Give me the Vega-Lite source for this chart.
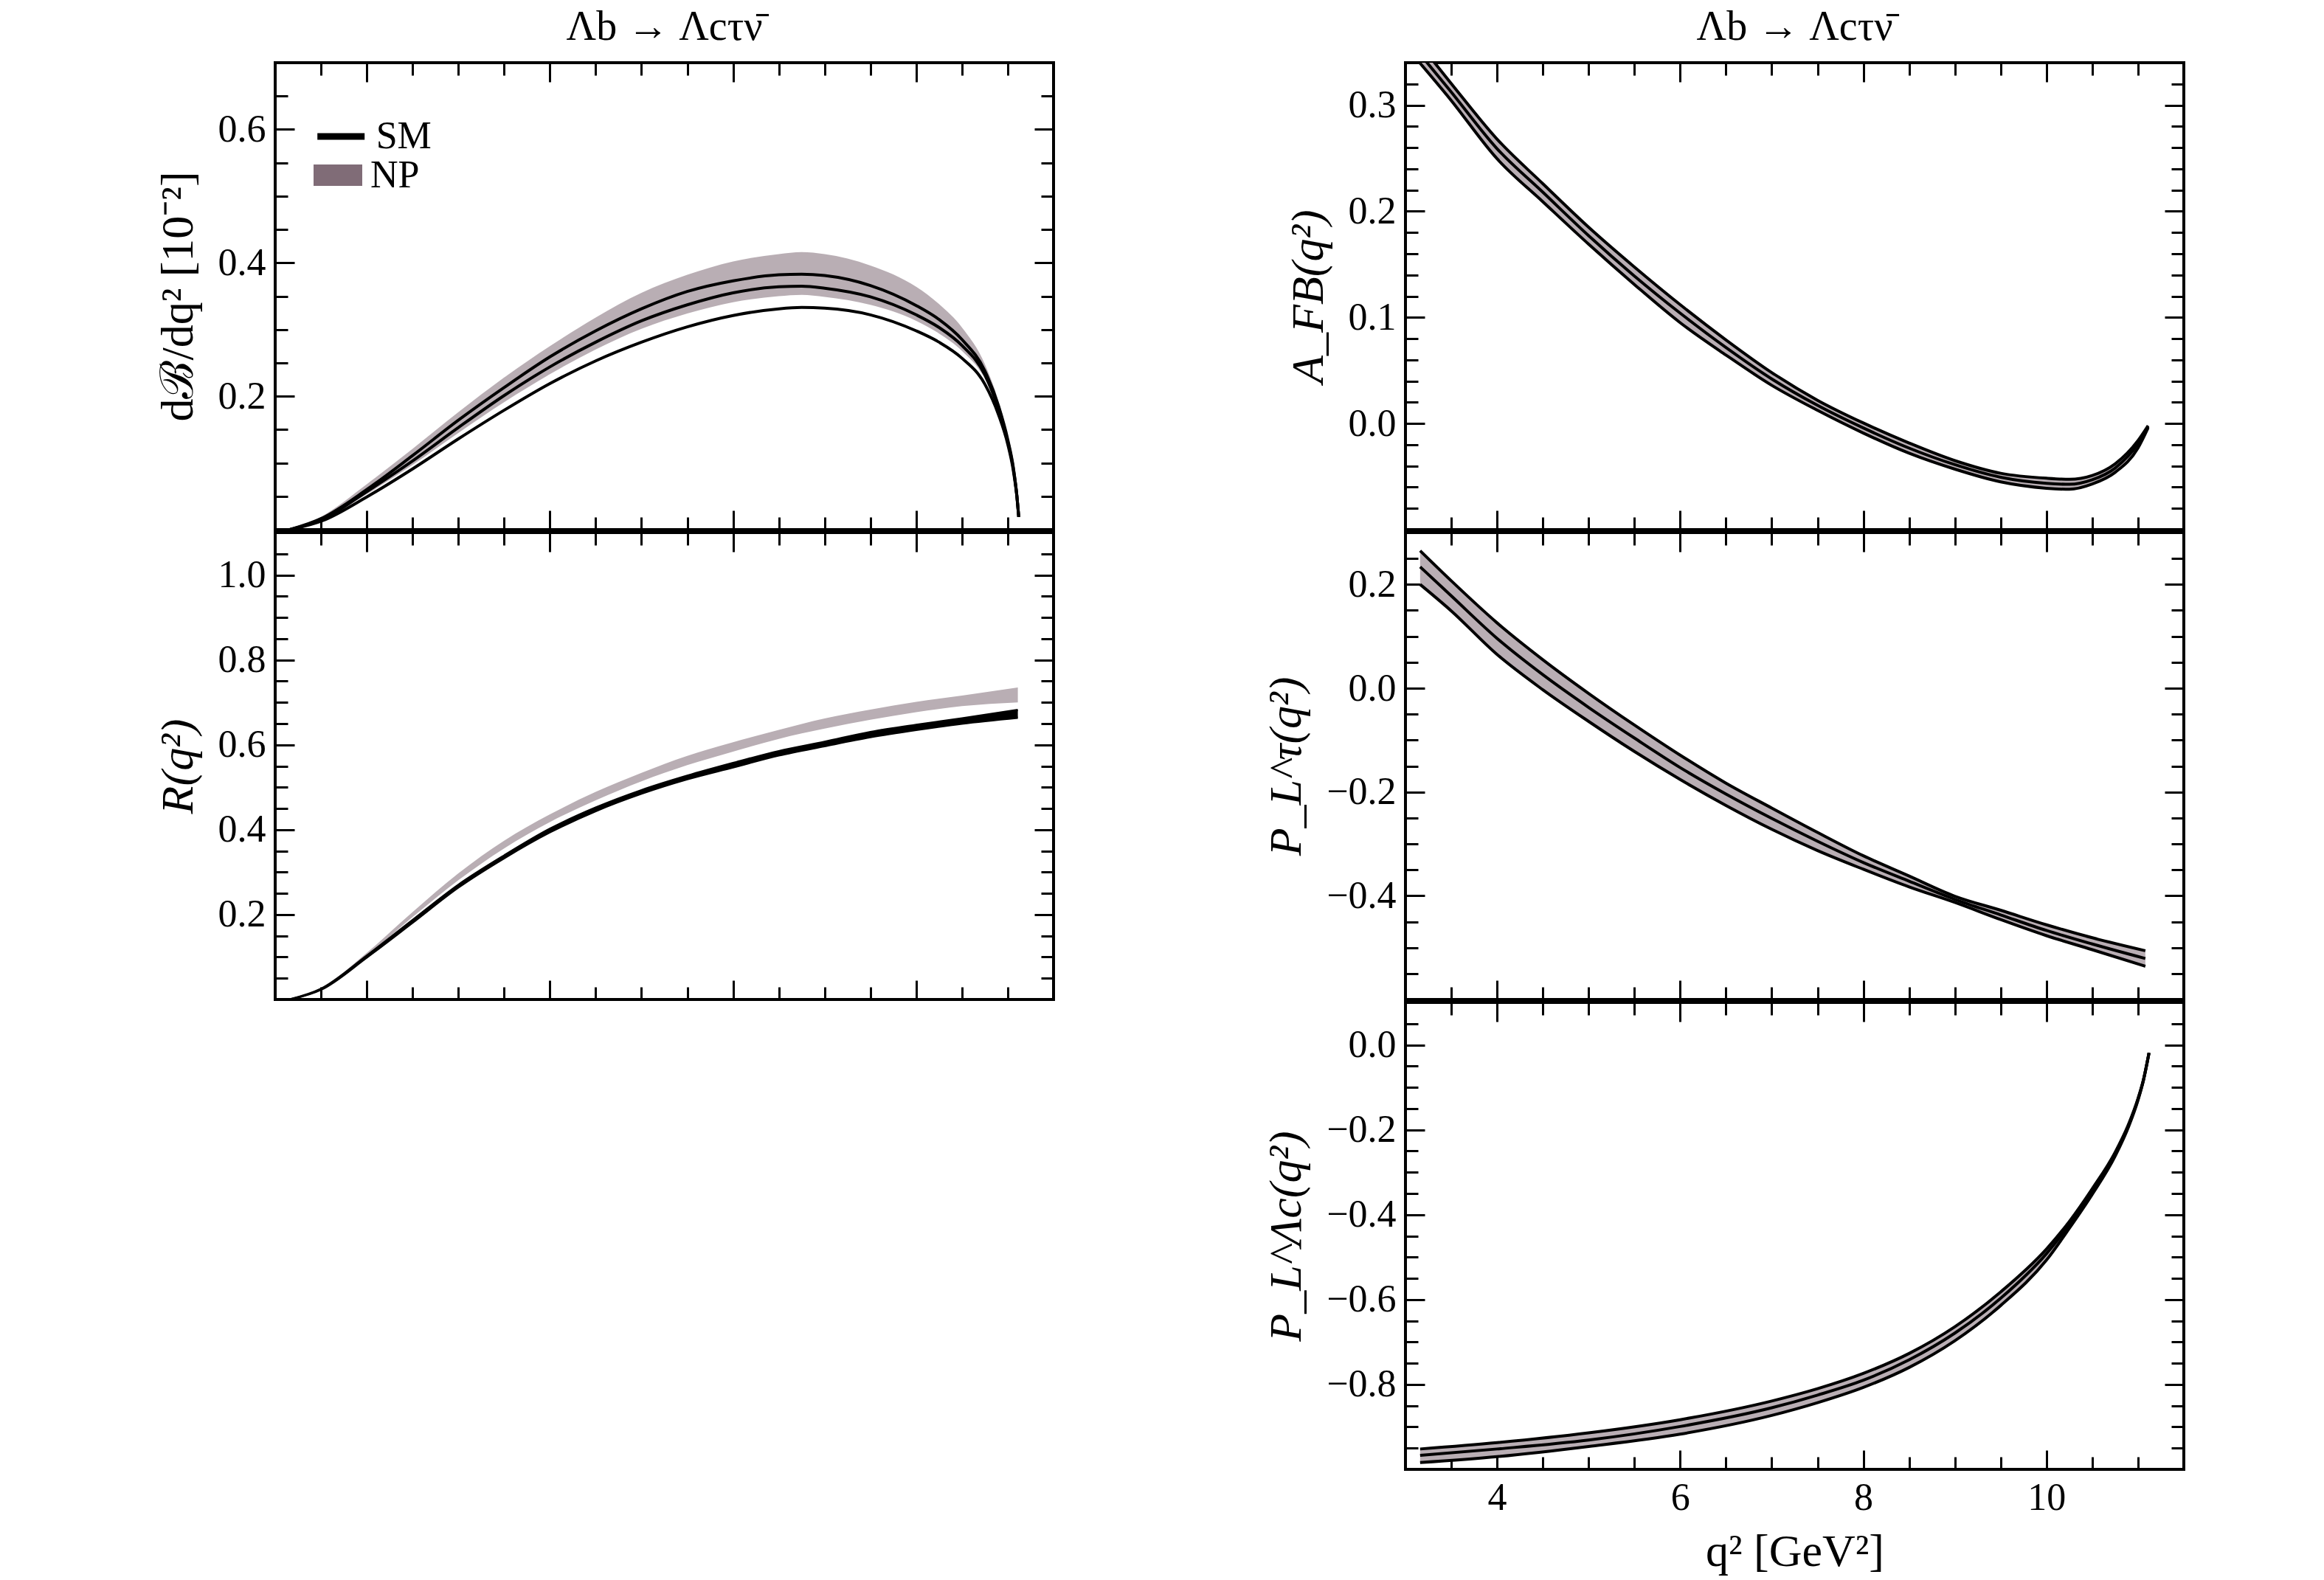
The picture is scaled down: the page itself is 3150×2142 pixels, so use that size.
{
  "$schema": "https://vega.github.io/schema/vega-lite/v5.json",
  "background": "white",
  "padding": {"left": 208, "top": 6, "right": 10, "bottom": 10},
  "datasets": {
    "dB": [
      {"q2": 3.16, "npLo": 0, "npHi": 0, "l1": 0, "l2": 0, "l3": 0},
      {"q2": 3.51, "npLo": 0.014, "npHi": 0.02, "l1": 0.017, "l2": 0.015, "l3": 0.013},
      {"q2": 4.0, "npLo": 0.053, "npHi": 0.068, "l1": 0.06, "l2": 0.057, "l3": 0.049},
      {"q2": 4.5, "npLo": 0.097, "npHi": 0.121, "l1": 0.111, "l2": 0.103, "l3": 0.091},
      {"q2": 5.0, "npLo": 0.145, "npHi": 0.176, "l1": 0.164, "l2": 0.153, "l3": 0.136},
      {"q2": 5.5, "npLo": 0.191, "npHi": 0.228, "l1": 0.213, "l2": 0.201, "l3": 0.179},
      {"q2": 6.0, "npLo": 0.233, "npHi": 0.275, "l1": 0.259, "l2": 0.244, "l3": 0.219},
      {"q2": 6.5, "npLo": 0.27, "npHi": 0.318, "l1": 0.298, "l2": 0.281, "l3": 0.253},
      {"q2": 7.0, "npLo": 0.301, "npHi": 0.355, "l1": 0.331, "l2": 0.313, "l3": 0.281},
      {"q2": 7.5, "npLo": 0.324, "npHi": 0.382, "l1": 0.357, "l2": 0.337, "l3": 0.304},
      {"q2": 8.0, "npLo": 0.341, "npHi": 0.402, "l1": 0.373, "l2": 0.355, "l3": 0.321},
      {"q2": 8.5, "npLo": 0.35, "npHi": 0.413, "l1": 0.382, "l2": 0.364, "l3": 0.331},
      {"q2": 8.75, "npLo": 0.352, "npHi": 0.416, "l1": 0.383, "l2": 0.365, "l3": 0.333},
      {"q2": 9.0, "npLo": 0.349, "npHi": 0.413, "l1": 0.381, "l2": 0.362, "l3": 0.332},
      {"q2": 9.5, "npLo": 0.337, "npHi": 0.396, "l1": 0.366, "l2": 0.349, "l3": 0.322},
      {"q2": 10.0, "npLo": 0.313, "npHi": 0.364, "l1": 0.336, "l2": 0.322, "l3": 0.298},
      {"q2": 10.25, "npLo": 0.294, "npHi": 0.338, "l1": 0.315, "l2": 0.303, "l3": 0.281},
      {"q2": 10.5, "npLo": 0.268, "npHi": 0.303, "l1": 0.285, "l2": 0.276, "l3": 0.257},
      {"q2": 10.75, "npLo": 0.226, "npHi": 0.248, "l1": 0.238, "l2": 0.232, "l3": 0.218},
      {"q2": 10.9, "npLo": 0.177, "npHi": 0.192, "l1": 0.185, "l2": 0.18, "l3": 0.172},
      {"q2": 11.0, "npLo": 0.131, "npHi": 0.14, "l1": 0.135, "l2": 0.132, "l3": 0.128},
      {"q2": 11.06, "npLo": 0.09, "npHi": 0.098, "l1": 0.094, "l2": 0.092, "l3": 0.089},
      {"q2": 11.1, "npLo": 0.049, "npHi": 0.052, "l1": 0.05, "l2": 0.05, "l3": 0.049},
      {"q2": 11.12, "npLo": 0.019, "npHi": 0.019, "l1": 0.019, "l2": 0.019, "l3": 0.019}
    ],
    "R": [
      {"q2": 3.16, "npLo": 0, "npHi": 0, "smLo": 0, "smHi": 0},
      {"q2": 3.5, "npLo": 0.024, "npHi": 0.027, "smLo": 0.023, "smHi": 0.025},
      {"q2": 4.0, "npLo": 0.103, "npHi": 0.11, "smLo": 0.099, "smHi": 0.103},
      {"q2": 4.5, "npLo": 0.194, "npHi": 0.206, "smLo": 0.181, "smHi": 0.187},
      {"q2": 5.0, "npLo": 0.281, "npHi": 0.297, "smLo": 0.264, "smHi": 0.27},
      {"q2": 5.5, "npLo": 0.356, "npHi": 0.374, "smLo": 0.333, "smHi": 0.339},
      {"q2": 6.0, "npLo": 0.418, "npHi": 0.436, "smLo": 0.394, "smHi": 0.402},
      {"q2": 6.5, "npLo": 0.469, "npHi": 0.489, "smLo": 0.444, "smHi": 0.452},
      {"q2": 7.0, "npLo": 0.514, "npHi": 0.534, "smLo": 0.485, "smHi": 0.493},
      {"q2": 7.5, "npLo": 0.552, "npHi": 0.574, "smLo": 0.519, "smHi": 0.527},
      {"q2": 8.0, "npLo": 0.584, "npHi": 0.606, "smLo": 0.547, "smHi": 0.557},
      {"q2": 8.5, "npLo": 0.614, "npHi": 0.635, "smLo": 0.575, "smHi": 0.585},
      {"q2": 9.0, "npLo": 0.638, "npHi": 0.662, "smLo": 0.597, "smHi": 0.607},
      {"q2": 9.5, "npLo": 0.659, "npHi": 0.683, "smLo": 0.618, "smHi": 0.63},
      {"q2": 10.0, "npLo": 0.677, "npHi": 0.701, "smLo": 0.635, "smHi": 0.647},
      {"q2": 10.5, "npLo": 0.691, "npHi": 0.716, "smLo": 0.65, "smHi": 0.662},
      {"q2": 11.11, "npLo": 0.7, "npHi": 0.735, "smLo": 0.664, "smHi": 0.682}
    ],
    "AFB": [
      {"q2": 3.16, "lo": 0.3395, "mid": 0.348, "hi": 0.357},
      {"q2": 3.485, "lo": 0.306, "mid": 0.314, "hi": 0.322},
      {"q2": 4.0, "lo": 0.2495, "mid": 0.259, "hi": 0.268},
      {"q2": 4.5, "lo": 0.209, "mid": 0.218, "hi": 0.226},
      {"q2": 5.0, "lo": 0.169, "mid": 0.177, "hi": 0.185},
      {"q2": 5.5, "lo": 0.131, "mid": 0.139, "hi": 0.1475},
      {"q2": 6.0, "lo": 0.095, "mid": 0.104, "hi": 0.112},
      {"q2": 6.5, "lo": 0.0645, "mid": 0.0716, "hi": 0.0788},
      {"q2": 7.0, "lo": 0.036, "mid": 0.042, "hi": 0.048},
      {"q2": 7.5, "lo": 0.0124, "mid": 0.0171, "hi": 0.0219},
      {"q2": 8.0, "lo": -0.009, "mid": -0.0042, "hi": 0.0005},
      {"q2": 8.5, "lo": -0.028, "mid": -0.0232, "hi": -0.0184},
      {"q2": 9.0, "lo": -0.043, "mid": -0.0388, "hi": -0.035},
      {"q2": 9.5, "lo": -0.055, "mid": -0.0507, "hi": -0.0469},
      {"q2": 10.0, "lo": -0.061, "mid": -0.0564, "hi": -0.0516},
      {"q2": 10.25, "lo": -0.062, "mid": -0.0573, "hi": -0.0526},
      {"q2": 10.5, "lo": -0.057, "mid": -0.053, "hi": -0.049},
      {"q2": 10.75, "lo": -0.046, "mid": -0.042, "hi": -0.038},
      {"q2": 11.0, "lo": -0.023, "mid": -0.019, "hi": -0.016},
      {"q2": 11.11, "lo": -0.004, "mid": -0.003, "hi": -0.002}
    ],
    "PT": [
      {"q2": 3.16, "lo": 0.2, "mid": 0.234, "hi": 0.265},
      {"q2": 3.5, "lo": 0.149, "mid": 0.178, "hi": 0.207},
      {"q2": 4.0, "lo": 0.065, "mid": 0.096, "hi": 0.126},
      {"q2": 4.5, "lo": -0.003, "mid": 0.026, "hi": 0.055},
      {"q2": 5.0, "lo": -0.064, "mid": -0.037, "hi": -0.01},
      {"q2": 5.5, "lo": -0.122, "mid": -0.096, "hi": -0.071},
      {"q2": 6.0, "lo": -0.176, "mid": -0.153, "hi": -0.129},
      {"q2": 6.5, "lo": -0.226, "mid": -0.204, "hi": -0.183},
      {"q2": 7.0, "lo": -0.272, "mid": -0.251, "hi": -0.231},
      {"q2": 7.5, "lo": -0.313, "mid": -0.295, "hi": -0.278},
      {"q2": 8.0, "lo": -0.349, "mid": -0.336, "hi": -0.323},
      {"q2": 8.5, "lo": -0.383, "mid": -0.372, "hi": -0.362},
      {"q2": 9.0, "lo": -0.413, "mid": -0.407, "hi": -0.401},
      {"q2": 9.5, "lo": -0.446, "mid": -0.437, "hi": -0.428},
      {"q2": 10.0, "lo": -0.477, "mid": -0.467, "hi": -0.456},
      {"q2": 10.5, "lo": -0.504, "mid": -0.493, "hi": -0.481},
      {"q2": 11.08, "lo": -0.536, "mid": -0.521, "hi": -0.506}
    ],
    "PL": [
      {"q2": 3.16, "lo": -0.984, "mid": -0.967, "hi": -0.952},
      {"q2": 4.0, "lo": -0.97, "mid": -0.952, "hi": -0.937},
      {"q2": 5.0, "lo": -0.946, "mid": -0.931, "hi": -0.914},
      {"q2": 6.0, "lo": -0.917, "mid": -0.899, "hi": -0.883},
      {"q2": 7.0, "lo": -0.873, "mid": -0.855, "hi": -0.839},
      {"q2": 7.5, "lo": -0.843, "mid": -0.825, "hi": -0.81},
      {"q2": 8.0, "lo": -0.807, "mid": -0.79, "hi": -0.774},
      {"q2": 8.5, "lo": -0.76, "mid": -0.742, "hi": -0.727},
      {"q2": 9.0, "lo": -0.697, "mid": -0.679, "hi": -0.664},
      {"q2": 9.5, "lo": -0.614, "mid": -0.597, "hi": -0.582},
      {"q2": 10.0, "lo": -0.507, "mid": -0.492, "hi": -0.481},
      {"q2": 10.25, "lo": -0.432, "mid": -0.424, "hi": -0.416},
      {"q2": 10.5, "lo": -0.352, "mid": -0.345, "hi": -0.339},
      {"q2": 10.75, "lo": -0.262, "mid": -0.257, "hi": -0.253},
      {"q2": 10.9, "lo": -0.191, "mid": -0.188, "hi": -0.185},
      {"q2": 11.0, "lo": -0.13, "mid": -0.128, "hi": -0.126},
      {"q2": 11.06, "lo": -0.083, "mid": -0.082, "hi": -0.081},
      {"q2": 11.12, "lo": -0.019, "mid": -0.019, "hi": -0.019}
    ]
  },
  "hconcat": [
    {
      "spacing": -10,
      "resolve": {"scale": {"stroke": "independent", "fill": "independent"}},
      "vconcat": [
        {
          "width": 1055,
          "height": 633,
          "title": {"text": "Λb  →  Λcτν̄", "fontSize": 56, "font": "Liberation Serif", "fontWeight": "normal", "offset": 18},
          "data": {"name": "dB"},
          "layer": [
            {
              "mark": {"type": "area", "interpolate": "monotone", "opacity": 0.55, "clip": true},
              "encoding": {
                "x": {"field": "q2", "type": "quantitative", "scale": {"domain": [3, 11.5], "nice": false, "zero": false},
                  "axis": {"orient": "bottom", "values": [3.5, 4, 4.5, 5, 5.5, 6, 6.5, 7, 7.5, 8, 8.5, 9, 9.5, 10, 10.5, 11], "labels": false, "title": null,
                    "tickSize": {"condition": {"test": "datum.value % 2 === 0", "value": -26}, "value": -17}}},
                "y": {"field": "npLo", "type": "quantitative", "scale": {"domain": [0, 0.7], "nice": false, "zero": false},
                  "axis": {"orient": "left", "values": [0.05, 0.1, 0.15, 0.2, 0.25, 0.3, 0.35, 0.4, 0.45, 0.5, 0.55, 0.6, 0.65],
                    "labelExpr": "abs(datum.value*5 - round(datum.value*5)) < 0.001 ? format(datum.value, '.1f') : ''",
                    "labelPadding": 39, "title": "dℬ/dq² [10⁻²]", "titlePadding": 22,
                    "tickSize": {"condition": {"test": "abs(datum.value*5 - round(datum.value*5)) < 0.001", "value": -26}, "value": -17}}},
                "y2": {"field": "npHi"},
                "fill": {"datum": "NP", "scale": {"domain": ["NP"], "range": ["#806c77"]},
                  "legend": {"orient": "none", "legendX": 52, "legendY": 119.5, "title": null, "padding": 0,
                    "symbolType": "M-1,-0.44H1V0.44H-1Z", "symbolSize": 4356, "symbolStrokeWidth": 0, "symbolOpacity": 1,
                    "labelFont": "Liberation Serif", "labelFontSize": 52, "labelColor": "black", "labelOffset": 11}}
              }
            },
            {
              "mark": {"type": "line", "interpolate": "monotone", "strokeWidth": 4, "clip": true},
              "encoding": {
                "x": {"field": "q2", "type": "quantitative",
                  "axis": {"orient": "top", "values": [3.5, 4, 4.5, 5, 5.5, 6, 6.5, 7, 7.5, 8, 8.5, 9, 9.5, 10, 10.5, 11], "labels": false, "title": null,
                    "tickSize": {"condition": {"test": "datum.value % 2 === 0", "value": -26}, "value": -17}}},
                "y": {"field": "l1", "type": "quantitative",
                  "axis": {"orient": "right", "values": [0.05, 0.1, 0.15, 0.2, 0.25, 0.3, 0.35, 0.4, 0.45, 0.5, 0.55, 0.6, 0.65], "labels": false, "title": null,
                    "tickSize": {"condition": {"test": "abs(datum.value*5 - round(datum.value*5)) < 0.001", "value": -26}, "value": -17}}},
                "stroke": {"datum": "SM", "scale": {"domain": ["SM"], "range": ["#000000"]},
                  "legend": {"orient": "none", "legendX": 52.7, "legendY": 63.5, "title": null, "padding": 0,
                    "symbolType": "stroke", "symbolSize": 4096, "symbolStrokeWidth": 9,
                    "labelFont": "Liberation Serif", "labelFontSize": 52, "labelColor": "black", "labelOffset": 11}}
              }
            },
            {
              "mark": {"type": "line", "interpolate": "monotone", "strokeWidth": 4, "color": "black", "clip": true},
              "encoding": {
                "x": {"field": "q2", "type": "quantitative", "axis": null},
                "y": {"field": "l2", "type": "quantitative", "axis": null}
              }
            },
            {
              "mark": {"type": "line", "interpolate": "monotone", "strokeWidth": 4, "color": "black", "clip": true},
              "encoding": {
                "x": {"field": "q2", "type": "quantitative", "axis": null},
                "y": {"field": "l3", "type": "quantitative", "axis": null}
              }
            }
          ],
          "resolve": {"axis": {"x": "independent", "y": "independent"}}
        },
        {
          "width": 1055,
          "height": 633,
          "data": {"name": "R"},
          "layer": [
            {
              "mark": {"type": "area", "interpolate": "monotone", "color": "#b9aeb4", "clip": true},
              "encoding": {
                "x": {"field": "q2", "type": "quantitative", "scale": {"domain": [3, 11.5], "nice": false, "zero": false},
                  "axis": {"orient": "bottom", "values": [3.5, 4, 4.5, 5, 5.5, 6, 6.5, 7, 7.5, 8, 8.5, 9, 9.5, 10, 10.5, 11], "labels": false, "title": null,
                    "tickSize": {"condition": {"test": "datum.value % 2 === 0", "value": -26}, "value": -17}}},
                "y": {"field": "npLo", "type": "quantitative", "scale": {"domain": [0, 1.1], "nice": false, "zero": false},
                  "axis": {"orient": "left", "values": [0.05, 0.1, 0.15, 0.2, 0.25, 0.3, 0.35, 0.4, 0.45, 0.5, 0.55, 0.6, 0.65, 0.7, 0.75, 0.8, 0.85, 0.9, 0.95, 1.0, 1.05],
                    "labelExpr": "abs(datum.value*5 - round(datum.value*5)) < 0.001 ? format(datum.value, '.1f') : ''",
                    "labelPadding": 39, "title": "R(q²)", "titleFontStyle": "italic", "titlePadding": 22,
                    "tickSize": {"condition": {"test": "abs(datum.value*5 - round(datum.value*5)) < 0.001", "value": -26}, "value": -17}}},
                "y2": {"field": "npHi"}
              }
            },
            {
              "mark": {"type": "area", "interpolate": "monotone", "color": "black", "clip": true},
              "encoding": {
                "x": {"field": "q2", "type": "quantitative",
                  "axis": {"orient": "top", "values": [3.5, 4, 4.5, 5, 5.5, 6, 6.5, 7, 7.5, 8, 8.5, 9, 9.5, 10, 10.5, 11], "labels": false, "title": null,
                    "tickSize": {"condition": {"test": "datum.value % 2 === 0", "value": -26}, "value": -17}}},
                "y": {"field": "smLo", "type": "quantitative",
                  "axis": {"orient": "right", "values": [0.05, 0.1, 0.15, 0.2, 0.25, 0.3, 0.35, 0.4, 0.45, 0.5, 0.55, 0.6, 0.65, 0.7, 0.75, 0.8, 0.85, 0.9, 0.95, 1.0, 1.05], "labels": false, "title": null,
                    "tickSize": {"condition": {"test": "abs(datum.value*5 - round(datum.value*5)) < 0.001", "value": -26}, "value": -17}}},
                "y2": {"field": "smHi"}
              }
            },
            {
              "mark": {"type": "line", "interpolate": "monotone", "strokeWidth": 3, "color": "black", "clip": true},
              "encoding": {
                "x": {"field": "q2", "type": "quantitative", "axis": null},
                "y": {"field": "smLo", "type": "quantitative", "axis": null}
              }
            },
            {
              "mark": {"type": "line", "interpolate": "monotone", "strokeWidth": 3, "color": "black", "clip": true},
              "encoding": {
                "x": {"field": "q2", "type": "quantitative", "axis": null},
                "y": {"field": "smHi", "type": "quantitative", "axis": null}
              }
            }
          ],
          "resolve": {"axis": {"x": "independent", "y": "independent"}}
        }
      ]
    },
    {
      "spacing": -10,
      "vconcat": [
        {
          "width": 1055,
          "height": 633,
          "title": {"text": "Λb  →  Λcτν̄", "fontSize": 56, "font": "Liberation Serif", "fontWeight": "normal", "offset": 18},
          "data": {"name": "AFB"},
          "layer": [
            {
              "mark": {"type": "area", "interpolate": "monotone", "color": "#b9aeb4", "clip": true},
              "encoding": {
                "x": {"field": "q2", "type": "quantitative", "scale": {"domain": [3, 11.5], "nice": false, "zero": false},
                  "axis": {"orient": "bottom", "values": [3.5, 4, 4.5, 5, 5.5, 6, 6.5, 7, 7.5, 8, 8.5, 9, 9.5, 10, 10.5, 11], "labels": false, "title": null,
                    "tickSize": {"condition": {"test": "datum.value % 2 === 0", "value": -26}, "value": -17}}},
                "y": {"field": "lo", "type": "quantitative", "scale": {"domain": [-0.1, 0.34], "nice": false, "zero": false},
                  "axis": {"orient": "left", "values": [-0.08, -0.06, -0.04, -0.02, 0, 0.02, 0.04, 0.06, 0.08, 0.1, 0.12, 0.14, 0.16, 0.18, 0.2, 0.22, 0.24, 0.26, 0.28, 0.3, 0.32],
                    "labelExpr": "abs(datum.value*10 - round(datum.value*10)) < 0.001 ? format(datum.value, '.1f') : ''",
                    "labelPadding": 39, "title": "A_FB(q²)", "titleFontStyle": "italic", "titlePadding": 22,
                    "tickSize": {"condition": {"test": "abs(datum.value*10 - round(datum.value*10)) < 0.001", "value": -26}, "value": -17}}},
                "y2": {"field": "hi"}
              }
            },
            {
              "mark": {"type": "line", "interpolate": "monotone", "strokeWidth": 4, "color": "black", "clip": true},
              "encoding": {
                "x": {"field": "q2", "type": "quantitative",
                  "axis": {"orient": "top", "values": [3.5, 4, 4.5, 5, 5.5, 6, 6.5, 7, 7.5, 8, 8.5, 9, 9.5, 10, 10.5, 11], "labels": false, "title": null,
                    "tickSize": {"condition": {"test": "datum.value % 2 === 0", "value": -26}, "value": -17}}},
                "y": {"field": "hi", "type": "quantitative",
                  "axis": {"orient": "right", "values": [-0.08, -0.06, -0.04, -0.02, 0, 0.02, 0.04, 0.06, 0.08, 0.1, 0.12, 0.14, 0.16, 0.18, 0.2, 0.22, 0.24, 0.26, 0.28, 0.3, 0.32], "labels": false, "title": null,
                    "tickSize": {"condition": {"test": "abs(datum.value*10 - round(datum.value*10)) < 0.001", "value": -26}, "value": -17}}}
              }
            },
            {
              "mark": {"type": "line", "interpolate": "monotone", "strokeWidth": 4, "color": "black", "clip": true},
              "encoding": {
                "x": {"field": "q2", "type": "quantitative", "axis": null},
                "y": {"field": "mid", "type": "quantitative", "axis": null}
              }
            },
            {
              "mark": {"type": "line", "interpolate": "monotone", "strokeWidth": 4, "color": "black", "clip": true},
              "encoding": {
                "x": {"field": "q2", "type": "quantitative", "axis": null},
                "y": {"field": "lo", "type": "quantitative", "axis": null}
              }
            }
          ],
          "resolve": {"axis": {"x": "independent", "y": "independent"}}
        },
        {
          "width": 1055,
          "height": 633,
          "data": {"name": "PT"},
          "layer": [
            {
              "mark": {"type": "area", "interpolate": "monotone", "color": "#b9aeb4", "clip": true},
              "encoding": {
                "x": {"field": "q2", "type": "quantitative", "scale": {"domain": [3, 11.5], "nice": false, "zero": false},
                  "axis": {"orient": "bottom", "values": [3.5, 4, 4.5, 5, 5.5, 6, 6.5, 7, 7.5, 8, 8.5, 9, 9.5, 10, 10.5, 11], "labels": false, "title": null,
                    "tickSize": {"condition": {"test": "datum.value % 2 === 0", "value": -26}, "value": -17}}},
                "y": {"field": "lo", "type": "quantitative", "scale": {"domain": [-0.6, 0.3], "nice": false, "zero": false},
                  "axis": {"orient": "left", "values": [-0.55, -0.5, -0.45, -0.4, -0.35, -0.3, -0.25, -0.2, -0.15, -0.1, -0.05, 0, 0.05, 0.1, 0.15, 0.2, 0.25],
                    "labelExpr": "abs(datum.value*5 - round(datum.value*5)) < 0.001 ? format(datum.value, '.1f') : ''",
                    "labelPadding": 39, "title": "P_L^τ(q²)", "titleFontStyle": "italic", "titlePadding": 22,
                    "tickSize": {"condition": {"test": "abs(datum.value*5 - round(datum.value*5)) < 0.001", "value": -26}, "value": -17}}},
                "y2": {"field": "hi"}
              }
            },
            {
              "mark": {"type": "line", "interpolate": "monotone", "strokeWidth": 4, "color": "black", "clip": true},
              "encoding": {
                "x": {"field": "q2", "type": "quantitative",
                  "axis": {"orient": "top", "values": [3.5, 4, 4.5, 5, 5.5, 6, 6.5, 7, 7.5, 8, 8.5, 9, 9.5, 10, 10.5, 11], "labels": false, "title": null,
                    "tickSize": {"condition": {"test": "datum.value % 2 === 0", "value": -26}, "value": -17}}},
                "y": {"field": "hi", "type": "quantitative",
                  "axis": {"orient": "right", "values": [-0.55, -0.5, -0.45, -0.4, -0.35, -0.3, -0.25, -0.2, -0.15, -0.1, -0.05, 0, 0.05, 0.1, 0.15, 0.2, 0.25], "labels": false, "title": null,
                    "tickSize": {"condition": {"test": "abs(datum.value*5 - round(datum.value*5)) < 0.001", "value": -26}, "value": -17}}}
              }
            },
            {
              "mark": {"type": "line", "interpolate": "monotone", "strokeWidth": 4, "color": "black", "clip": true},
              "encoding": {
                "x": {"field": "q2", "type": "quantitative", "axis": null},
                "y": {"field": "mid", "type": "quantitative", "axis": null}
              }
            },
            {
              "mark": {"type": "line", "interpolate": "monotone", "strokeWidth": 4, "color": "black", "clip": true},
              "encoding": {
                "x": {"field": "q2", "type": "quantitative", "axis": null},
                "y": {"field": "lo", "type": "quantitative", "axis": null}
              }
            }
          ],
          "resolve": {"axis": {"x": "independent", "y": "independent"}}
        },
        {
          "width": 1055,
          "height": 633,
          "data": {"name": "PL"},
          "layer": [
            {
              "mark": {"type": "area", "interpolate": "monotone", "color": "#b9aeb4", "clip": true},
              "encoding": {
                "x": {"field": "q2", "type": "quantitative", "scale": {"domain": [3, 11.5], "nice": false, "zero": false},
                  "axis": {"orient": "bottom", "values": [3.5, 4, 4.5, 5, 5.5, 6, 6.5, 7, 7.5, 8, 8.5, 9, 9.5, 10, 10.5, 11],
                    "labelExpr": "datum.value % 2 === 0 ? format(datum.value, 'd') : ''",
                    "labelPadding": 39, "title": "q²  [GeV²]", "titlePadding": 8,
                    "tickSize": {"condition": {"test": "datum.value % 2 === 0", "value": -26}, "value": -17}}},
                "y": {"field": "lo", "type": "quantitative", "scale": {"domain": [-1.0, 0.1], "nice": false, "zero": false},
                  "axis": {"orient": "left", "values": [-0.95, -0.9, -0.85, -0.8, -0.75, -0.7, -0.65, -0.6, -0.55, -0.5, -0.45, -0.4, -0.35, -0.3, -0.25, -0.2, -0.15, -0.1, -0.05, 0, 0.05],
                    "labelExpr": "abs(datum.value*5 - round(datum.value*5)) < 0.001 ? format(datum.value, '.1f') : ''",
                    "labelPadding": 39, "title": "P_L^Λc(q²)", "titleFontStyle": "italic", "titlePadding": 22,
                    "tickSize": {"condition": {"test": "abs(datum.value*5 - round(datum.value*5)) < 0.001", "value": -26}, "value": -17}}},
                "y2": {"field": "hi"}
              }
            },
            {
              "mark": {"type": "line", "interpolate": "monotone", "strokeWidth": 4, "color": "black", "clip": true},
              "encoding": {
                "x": {"field": "q2", "type": "quantitative",
                  "axis": {"orient": "top", "values": [3.5, 4, 4.5, 5, 5.5, 6, 6.5, 7, 7.5, 8, 8.5, 9, 9.5, 10, 10.5, 11], "labels": false, "title": null,
                    "tickSize": {"condition": {"test": "datum.value % 2 === 0", "value": -26}, "value": -17}}},
                "y": {"field": "hi", "type": "quantitative",
                  "axis": {"orient": "right", "values": [-0.95, -0.9, -0.85, -0.8, -0.75, -0.7, -0.65, -0.6, -0.55, -0.5, -0.45, -0.4, -0.35, -0.3, -0.25, -0.2, -0.15, -0.1, -0.05, 0, 0.05], "labels": false, "title": null,
                    "tickSize": {"condition": {"test": "abs(datum.value*5 - round(datum.value*5)) < 0.001", "value": -26}, "value": -17}}}
              }
            },
            {
              "mark": {"type": "line", "interpolate": "monotone", "strokeWidth": 4, "color": "black", "clip": true},
              "encoding": {
                "x": {"field": "q2", "type": "quantitative", "axis": null},
                "y": {"field": "mid", "type": "quantitative", "axis": null}
              }
            },
            {
              "mark": {"type": "line", "interpolate": "monotone", "strokeWidth": 4, "color": "black", "clip": true},
              "encoding": {
                "x": {"field": "q2", "type": "quantitative", "axis": null},
                "y": {"field": "lo", "type": "quantitative", "axis": null}
              }
            }
          ],
          "resolve": {"axis": {"x": "independent", "y": "independent"}}
        }
      ]
    }
  ],
  "spacing": 278,
  "resolve": {"scale": {"stroke": "independent", "fill": "independent"}},
  "config": {
    "view": {"stroke": "black", "strokeWidth": 4},
    "font": "Liberation Serif",
    "axis": {
      "domain": false,
      "grid": false,
      "tickColor": "black",
      "tickWidth": 3,
      "labelFont": "Liberation Serif",
      "labelFontSize": 52,
      "labelColor": "black",
      "labelFlush": false,
      "labelOverlap": false,
      "labelBound": false,
      "titleFont": "Liberation Serif",
      "titleFontSize": 62,
      "titleFontWeight": "normal",
      "titleColor": "black"
    },
    "title": {"color": "black"}
  }
}
